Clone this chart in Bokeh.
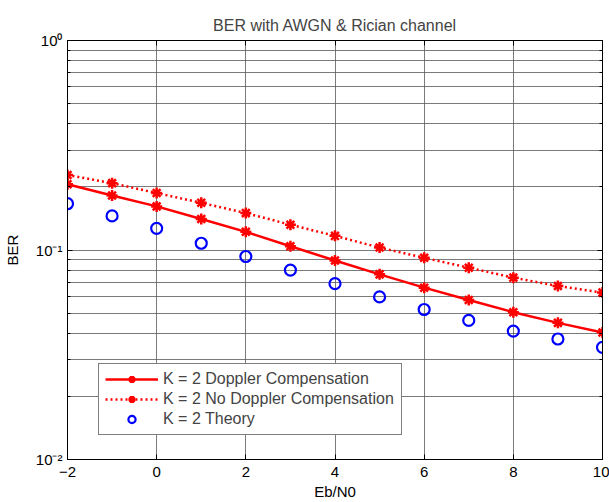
from bokeh.plotting import figure
from bokeh.models import LinearAxis, LogAxis, Range1d, Legend, LegendItem, FixedTicker
from bokeh.embed import file_html
from bokeh.resources import INLINE

ebn0 = [-2, -1, 0, 1, 2, 3, 4, 5, 6, 7, 8, 9, 10]
ber_comp = [0.206, 0.182, 0.1615, 0.1407, 0.1221, 0.1042, 0.0891, 0.0765, 0.0661, 0.0577, 0.0505, 0.0449, 0.0404]
ber_nocomp = [0.228, 0.2085, 0.187, 0.168, 0.150, 0.132, 0.1168, 0.1027, 0.0918, 0.0823, 0.0738, 0.0673, 0.0626]
ber_theory = [0.1663, 0.1454, 0.1269, 0.1077, 0.0931, 0.0802, 0.0691, 0.0597, 0.052, 0.0461, 0.041, 0.0376, 0.0343]
x_ticks = [-2, 0, 2, 4, 6, 8, 10]
y_ticks = [0.01, 0.1, 1]
y_tick_labels = {1: "10\u2070", 0.1: "10\u207b\u00b9", 0.01: "10\u207b\u00b2"}
y_minor = [m * d for d in (0.01, 0.1) for m in range(2, 10)]

FONT = "Liberation Sans"

p = figure(width=609, height=502, output_backend="svg", toolbar_location=None,
           y_axis_type="log", x_range=Range1d(-2, 10), y_range=Range1d(0.01, 1),
           min_border_left=66, min_border_right=7, min_border_top=40, min_border_bottom=41,
           title="BER with AWGN & Rician channel")
p.background_fill_color = "white"
p.border_fill_color = "white"
p.outline_line_color = "black"
p.outline_line_width = 1

p.title.align = "center"
p.title.vertical_align = "top"
p.title.text_font = FONT
p.title.text_font_size = "16px"
p.title.text_font_style = "normal"
p.title.offset = 0
p.title.standoff = 10

for ax in p.xaxis:
    ax.ticker = FixedTicker(ticks=x_ticks)
    ax.axis_label = "Eb/N0"
for ax in p.yaxis:
    ax.ticker = FixedTicker(ticks=y_ticks, minor_ticks=y_minor)
    ax.axis_label = "BER"
    ax.major_label_overrides = y_tick_labels

for ax in list(p.xaxis) + list(p.yaxis):
    ax.axis_label_text_font = FONT
    ax.axis_label_text_font_size = "15px"
    ax.axis_label_text_font_style = "normal"
    ax.major_label_text_font = FONT
    ax.major_label_text_font_size = "15px"
    ax.major_tick_in = 5
    ax.major_tick_out = 0
    ax.minor_tick_in = 3
    ax.minor_tick_out = 0
    ax.axis_line_color = "black"
    ax.major_tick_line_color = "black"
    ax.minor_tick_line_color = "black"
    ax.major_label_text_color = "black"
    ax.axis_label_text_color = "black"
    ax.axis_label_standoff = 12
    ax.major_label_standoff = 5

for ax in p.xaxis:
    ax.minor_tick_line_color = None
    ax.axis_label_standoff = 3
    ax.major_label_standoff = 7

p.xgrid.ticker = FixedTicker(ticks=x_ticks)
p.ygrid.ticker = FixedTicker(ticks=y_ticks, minor_ticks=y_minor)
p.xgrid.grid_line_color = "#5a5a5a"
p.xgrid.grid_line_alpha = 0.8
p.ygrid.grid_line_color = "#5a5a5a"
p.ygrid.grid_line_alpha = 0.8
p.ygrid.minor_grid_line_color = "#5a5a5a"
p.ygrid.minor_grid_line_alpha = 0.8

# top & right axes: tick marks only (no labels)
top = LinearAxis(ticker=FixedTicker(ticks=x_ticks),
                 major_label_overrides={t: "" for t in x_ticks},
                 major_label_text_color=None,
                 major_tick_in=5, major_tick_out=0, minor_tick_line_color=None,
                 major_label_standoff=0, axis_line_color="black")
right = LogAxis(ticker=FixedTicker(ticks=y_ticks, minor_ticks=y_minor),
                major_label_overrides={t: "" for t in y_ticks},
                major_label_text_color=None,
                major_tick_in=5, major_tick_out=0,
                minor_tick_in=3, minor_tick_out=0, major_label_standoff=0, axis_line_color="black")
p.add_layout(top, "above")
p.add_layout(right, "right")

l1 = p.line(ebn0, ber_comp, line_color="red", line_width=2.5)
m1 = p.scatter(ebn0, ber_comp, marker="asterisk", size=11, line_color="red", line_width=2.5)
l2 = p.line(ebn0, ber_nocomp, line_color="red", line_width=2.5, line_dash="2 3")
m2 = p.scatter(ebn0, ber_nocomp, marker="asterisk", size=11, line_color="red", line_width=2.5)
c3 = p.scatter(ebn0, ber_theory, marker="circle", size=11, line_color="blue", line_width=2.2,
               fill_color=None)

legend = Legend(items=[
    LegendItem(label="K = 2 Doppler Compensation", renderers=[l1, m1]),
    LegendItem(label="K = 2 No Doppler Compensation", renderers=[l2, m2]),
    LegendItem(label="K = 2 Theory", renderers=[c3]),
], location=(31, 24))
legend.label_text_font = FONT
legend.label_text_font_size = "16px"
legend.border_line_color = "black"
legend.border_line_width = 1
legend.glyph_width = 53
legend.glyph_height = 18
legend.label_height = 18
legend.label_width = 232
legend.spacing = 2
legend.padding = 6
legend.margin = 0
legend.label_standoff = 5
legend.background_fill_alpha = 1
p.add_layout(legend, "center")

open("out.html", "w").write(file_html(p, INLINE))
